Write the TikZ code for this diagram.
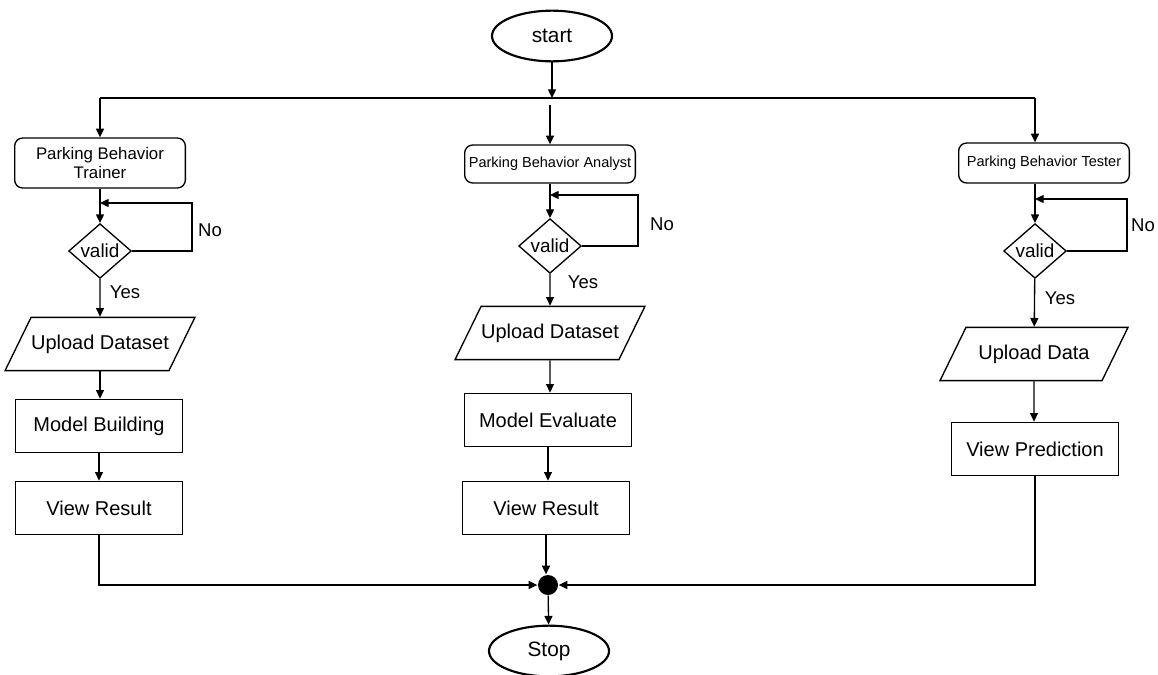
\documentclass[tikz,border=0pt]{standalone}
\usepackage{fontspec}
\setmainfont{Liberation Sans}
\usetikzlibrary{arrows.meta,shapes.geometric}

\tikzset{every picture/.style={line width=1pt}}
\tikzset{
  arr/.style={-{Triangle[length=6.5pt,width=6pt]}},
  terminal/.style={ellipse,draw,line width=1.6pt,minimum width=90pt,minimum height=38pt,inner sep=0pt,font=\fontsize{15.6}{17}\selectfont},
  userbox/.style={rectangle,draw,rounded corners=6pt,align=center,inner sep=1pt,minimum width=128pt},
  test/.style={diamond,draw,inner sep=0pt,shape aspect=1.2,minimum width=47pt,minimum height=41pt,font=\fontsize{14.2}{16}\selectfont},
  iobox/.style={trapezium,draw,trapezium left angle=64,trapezium right angle=116,trapezium stretches body,minimum width=141pt,inner xsep=0pt,inner ysep=13pt,font=\fontsize{15}{17}\selectfont},
  process/.style={rectangle,draw,minimum width=125pt,minimum height=40pt,inner sep=0pt,font=\fontsize{15}{17}\selectfont},
  answer/.style={inner sep=0.75pt,font=\fontsize{13.9}{16}\selectfont}
}

\begin{document}
\begin{tikzpicture}[x=0.75pt,y=0.75pt,yscale=-1,xscale=1]
\useasboundingbox (0,0) rectangle (1158,675);

%Shape: Ellipse
\node (start) at (552,36) [terminal] {start};
%Split line
\coordinate (splitL) at (100,98);
\coordinate (splitM) at (552,98);
\coordinate (splitMb) at (550,105);
\coordinate (splitR) at (1035,98);

%Shape: Rounded Rectangles
\node (trainer) at (100,163) [userbox,minimum height=37.5pt,font=\fontsize{12.6}{14.5}\selectfont] {Parking Behavior\\Trainer};
\node (analyst) at (550,164) [userbox,minimum height=28.5pt,font=\fontsize{10.9}{12}\selectfont] {Parking Behavior Analyst};
\node (tester) at (1044,163) [userbox,minimum height=30pt,font=\fontsize{10.9}{12}\selectfont] {Parking Behavior Tester};

%Shape: Diamonds
\node (validL) at (100,251) [test] {valid};
\node (validM) at (550,246) [test] {valid};
\node (validR) at (1035,251) [test] {valid};
\coordinate (loopL) at (192,203);
\coordinate (loopM) at (638,195);
\coordinate (loopR) at (1127,199);

%Shape: Parallelograms
\node (uploadL) at (100,344) [iobox] {Upload Dataset};
\node (uploadM) at (550,333) [iobox] {Upload Dataset};
\node (uploadR) at (1034,354) [iobox] {Upload Data};

%Shape: Rectangles
\node (buildL) at (99,426) [process] {Model Building};
\node (evalM) at (548,420) [process] {Model Evaluate};
\node (viewL) at (99,508) [process] {View Result};
\node (viewM) at (546,508) [process] {View Result};
\node (predR) at (1035,449) [process] {View Prediction};

%Shape: Circle
\node (join) at (548,585) [circle,fill=black,inner sep=0pt,minimum size=15pt] {};
\node (stop) at (549,651) [terminal] {Stop};

% Text Node
\node (noL) at (210,230) [answer] {No};
\node (noM) at (662,224) [answer] {No};
\node (noR) at (1143,225) [answer] {No};
\node (yesL) at (125,292) [answer] {Yes};
\node (yesM) at (583,282) [answer] {Yes};
\node (yesR) at (1060,298) [answer] {Yes};

%Straight Lines
\draw [arr] (start) -- (splitM);
\draw (splitL) -- (splitR);
\draw [arr] (splitL) -- (trainer);
\draw [arr] (splitMb) -- (analyst);
\draw [arr] (splitR) -- (splitR |- tester.north);

%left branch
\draw [arr] (trainer) -- (validL);
\draw [arr] (validL.east) -| (loopL) -- (loopL -| validL);
\draw [arr] (validL) -- (uploadL);
\draw [arr] (uploadL) -- (uploadL |- buildL.north);
\draw [arr] (buildL) -- (viewL);
\draw [arr] (viewL) |- (join);

%middle branch
\draw [arr] (analyst) -- (validM);
\draw [arr] (validM.east) -| (loopM) -- (loopM -| validM);
\draw [arr] (validM) -- (uploadM);
\draw [arr] (uploadM) -- (uploadM |- evalM.north);
\draw [arr] (evalM) -- (evalM |- viewM.north);
\draw [arr] (viewM) -- (viewM |- join.north);

%right branch
\draw [arr] (tester.south -| validR) -- (validR);
\draw [arr] (validR.east) -| (loopR) -- (loopR -| validR);
\draw [arr] (validR) -- (uploadR);
\draw [arr] (uploadR) -- (uploadR |- predR.north);
\draw [arr] (predR) |- (join);

\draw [arr] (join) -- (stop);

\end{tikzpicture}
\end{document}
